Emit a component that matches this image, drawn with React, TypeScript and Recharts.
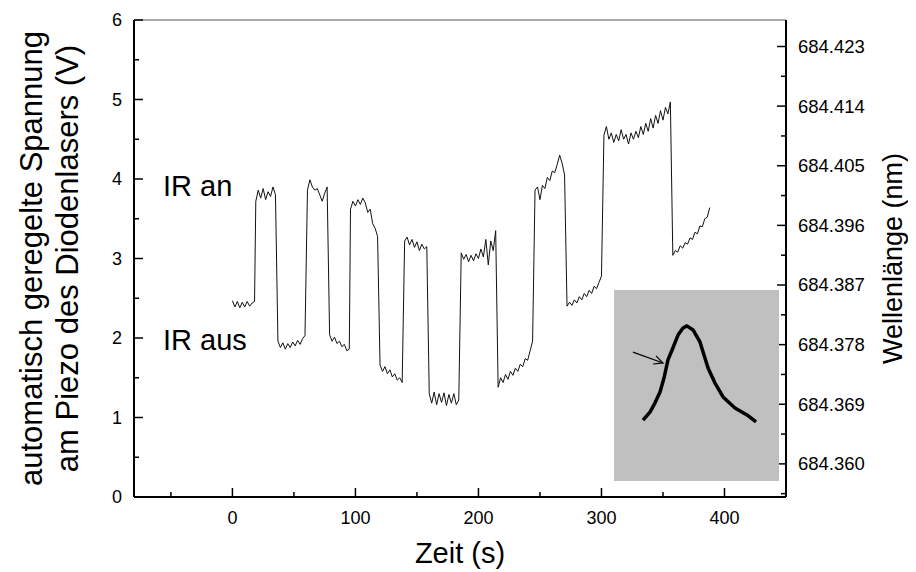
import React from 'react';
import { LineChart, Line, XAxis, YAxis, ReferenceLine, Label } from 'recharts';

// Abtastintervall der Messung (s)
const dt = 2;

// Startzeit jedes Abschnitts (s), IR abwechselnd aus / an
const startzeiten = [0, 19, 37, 61, 79, 96, 120, 140, 160, 186, 216, 246, 272, 302, 358];

const aus1 = [2.47, 2.39, 2.46, 2.38, 2.45, 2.39, 2.46, 2.40, 2.44, 2.46];
const an1 = [3.72, 3.86, 3.76, 3.88, 3.74, 3.84, 3.78, 3.90, 3.80];
const aus2 = [1.96, 1.88, 1.94, 1.86, 1.93, 1.88, 1.95, 1.90, 1.97, 1.92, 1.99, 2.03];
const an2 = [3.86, 3.99, 3.90, 3.86, 3.88, 3.80, 3.72, 3.82, 3.90];
const aus3 = [2.04, 1.96, 2.01, 1.93, 1.96, 1.89, 1.92, 1.84, 1.86];
const an3 = [3.62, 3.72, 3.66, 3.74, 3.68, 3.76, 3.70, 3.58, 3.62, 3.44, 3.38, 3.28];
const aus4 = [1.66, 1.58, 1.64, 1.55, 1.60, 1.51, 1.55, 1.47, 1.50, 1.44];
const an4 = [3.22, 3.27, 3.17, 3.24, 3.14, 3.21, 3.10, 3.18, 3.12, 3.15];
const aus5 = [1.30, 1.18, 1.32, 1.16, 1.30, 1.19, 1.31, 1.15, 1.29, 1.18, 1.30, 1.16, 1.22];
const an5 = [3.07, 2.99, 3.05, 2.96, 3.04, 2.97, 3.06, 3.00, 3.12, 3.02, 3.24, 2.92, 3.22, 3.10, 3.35];
const aus6 = [1.38, 1.50, 1.44, 1.54, 1.48, 1.58, 1.53, 1.62, 1.58, 1.67, 1.64, 1.74, 1.72, 1.84, 1.96];
const an6 = [3.86, 3.90, 3.74, 3.92, 3.88, 4.02, 3.98, 4.10, 4.08, 4.18, 4.30, 4.20, 4.05];
const aus7 = [2.40, 2.45, 2.41, 2.48, 2.44, 2.52, 2.48, 2.56, 2.52, 2.60, 2.56, 2.65, 2.62, 2.70, 2.78];
const an7 = [
  4.55, 4.66, 4.50, 4.58, 4.46, 4.56, 4.48, 4.62, 4.50, 4.56, 4.44, 4.58, 4.50, 4.60,
  4.52, 4.66, 4.56, 4.70, 4.60, 4.76, 4.64, 4.80, 4.70, 4.86, 4.74, 4.90, 4.82, 4.97,
];
const aus8 = [3.04, 3.10, 3.08, 3.16, 3.13, 3.20, 3.18, 3.26, 3.24, 3.33, 3.31, 3.41, 3.40, 3.50, 3.52, 3.64];

const abschnitte = [aus1, an1, aus2, an2, aus3, an3, aus4, an4, aus5, an5, aus6, an6, aus7, an7, aus8];

const verlauf = abschnitte.flatMap((werte, k) =>
  werte.map((v, i) => ({ t: startzeiten[k] + i * dt, v }))
);

// Inset: Linienprofil (relative Einheiten)
const insetX = [17.6, 21.8, 24.8, 27.9, 30.3, 32.7, 35.2, 38.8, 41.8, 44.2, 47.9, 52.1, 57.0, 61.2, 66.1, 73.3, 80.6, 86.1];
const insetY = [31.9, 36.1, 40.8, 46.6, 53.9, 63.4, 68.6, 76.4, 80.1, 81.2, 79.1, 72.8, 59.2, 51.3, 44.0, 38.2, 34.6, 30.9];
const insetData = insetX.map((x, i) => ({ x, y: insetY[i] }));
const pfeil = [{ x: 11.5, y: 67.5 }, { x: 29.7, y: 61.8 }];

const zeitTicks = [-50, 0, 50, 100, 150, 200, 250, 300, 350, 400, 450];
const zeitLabels = [0, 100, 200, 300, 400];
const spannungTicks = [0, 0.5, 1, 1.5, 2, 2.5, 3, 3.5, 4, 4.5, 5, 5.5, 6];
const wellenTicks = [
  684.3555, 684.36, 684.3645, 684.369, 684.3735, 684.378, 684.3825, 684.387,
  684.3915, 684.396, 684.4005, 684.405, 684.4095, 684.414, 684.4185, 684.423,
];
const wellenLabels = ['684.360', '684.369', '684.378', '684.387', '684.396', '684.405', '684.414', '684.423'];

const font = '"Liberation Sans", Arial, sans-serif';

const XTick = ({ x, y, payload }: any) => {
  const major = zeitLabels.includes(payload.value);
  return (
    <g>
      <line x1={x} x2={x} y1={y} y2={y - (major ? 9 : 5)} stroke="#000" strokeWidth={1.5} />
      {major && (
        <text x={x} y={y + 21} dy="0.35em" textAnchor="middle" fontSize={18} fill="#000">
          {payload.value}
        </text>
      )}
    </g>
  );
};

const LeftTick = ({ x, y, payload }: any) => {
  const major = Number.isInteger(payload.value);
  return (
    <g>
      <line x1={x} x2={x + (major ? 9 : 5)} y1={y} y2={y} stroke="#000" strokeWidth={1.5} />
      {major && (
        <text x={x - 12} y={y} dy="0.35em" textAnchor="end" fontSize={18} fill="#000">
          {payload.value}
        </text>
      )}
    </g>
  );
};

const RightTick = ({ x, y, payload }: any) => {
  const txt = payload.value.toFixed(3);
  const major = wellenLabels.includes(txt);
  return (
    <g>
      <line x1={x} x2={x - (major ? 9 : 5)} y1={y} y2={y} stroke="#000" strokeWidth={1.5} />
      {major && (
        <text x={x + 12} y={y} dy="0.35em" textAnchor="start" fontSize={18.5} fill="#000">
          {txt}
        </text>
      )}
    </g>
  );
};

const PfeilShape = ({ x1, y1, x2, y2 }: any) => {
  const a = Math.atan2(y2 - y1, x2 - x1);
  const l = 10;
  const s = 0.45;
  return (
    <g stroke="#000" strokeWidth={1.2} fill="none">
      <line x1={x1} y1={y1} x2={x2} y2={y2} />
      <polyline
        points={`${x2 - l * Math.cos(a - s)},${y2 - l * Math.sin(a - s)} ${x2},${y2} ${x2 - l * Math.cos(a + s)},${y2 - l * Math.sin(a + s)}`}
      />
    </g>
  );
};

const irText: React.CSSProperties = {
  position: 'absolute',
  fontSize: 29,
  lineHeight: '32px',
  color: '#000',
};

export default function App() {
  return (
    <div style={{ position: 'relative', width: 908, height: 564, fontFamily: font }}>
      <LineChart width={908} height={564} data={verlauf} margin={{ top: 12, right: 0, bottom: 0, left: 0 }}>
        <XAxis
          dataKey="t"
          type="number"
          domain={[-80, 450]}
          ticks={zeitTicks}
          interval={0}
          height={75}
          tickSize={0}
          tickMargin={0}
          tick={XTick}
          axisLine={{ stroke: '#000', strokeWidth: 2 }}
          allowDataOverflow
        >
          <Label value="Zeit (s)" position="insideBottom" offset={9} fontSize={29} fill="#000" />
        </XAxis>
        <YAxis
          yAxisId="volt"
          type="number"
          domain={[0, 6]}
          ticks={spannungTicks}
          interval={0}
          width={126}
          tickSize={0}
          tickMargin={0}
          tick={LeftTick}
          axisLine={{ stroke: '#000', strokeWidth: 2 }}
        >
          <Label
            content={({ viewBox }: any) => {
              const cy = viewBox.y + viewBox.height / 2;
              return (
                <g fontSize={31} fill="#000" textAnchor="middle">
                  <text transform={`translate(${viewBox.x + 23},${cy}) rotate(-90)`} dy="0.35em">
                    automatisch geregelte Spannung
                  </text>
                  <text transform={`translate(${viewBox.x + 59},${cy}) rotate(-90)`} dy="0.35em">
                    am Piezo des Diodenlasers (V)
                  </text>
                </g>
              );
            }}
          />
        </YAxis>
        <YAxis
          yAxisId="lambda"
          orientation="right"
          type="number"
          domain={[684.355, 684.427]}
          ticks={wellenTicks}
          interval={0}
          width={130}
          tickSize={0}
          tickMargin={0}
          tick={RightTick}
          axisLine={{ stroke: '#000', strokeWidth: 2 }}
          allowDataOverflow
        >
          <Label
            content={({ viewBox }: any) => {
              const cy = viewBox.y + viewBox.height / 2;
              return (
                <text
                  transform={`translate(${viewBox.x + 107},${cy}) rotate(-90)`}
                  dy="0.35em"
                  fontSize={27}
                  fill="#000"
                  textAnchor="middle"
                >
                  Wellenlänge (nm)
                </text>
              );
            }}
          />
        </YAxis>
        <ReferenceLine yAxisId="volt" y={6} stroke="#555" strokeWidth={1} />
        <Line
          yAxisId="volt"
          dataKey="v"
          type="linear"
          stroke="#111"
          strokeWidth={1}
          dot={false}
          isAnimationActive={false}
        />
      </LineChart>

      <div style={{ ...irText, left: 155, top: 162 }}>IR an</div>
      <div style={{ ...irText, left: 155, top: 316 }}>IR aus</div>

      <div style={{ position: 'absolute', left: 606, top: 282, width: 165, height: 191, background: '#c0c0c0' }}>
        <LineChart width={165} height={191} data={insetData} margin={{ top: 0, right: 0, bottom: 0, left: 0 }}>
          <XAxis dataKey="x" type="number" domain={[0, 100]} hide />
          <YAxis type="number" domain={[0, 100]} hide />
          <ReferenceLine segment={pfeil} ifOverflow="visible" shape={PfeilShape} />
          <Line
            dataKey="y"
            type="linear"
            stroke="#000"
            strokeWidth={3.5}
            strokeLinejoin="round"
            dot={false}
            isAnimationActive={false}
          />
        </LineChart>
      </div>
    </div>
  );
}
